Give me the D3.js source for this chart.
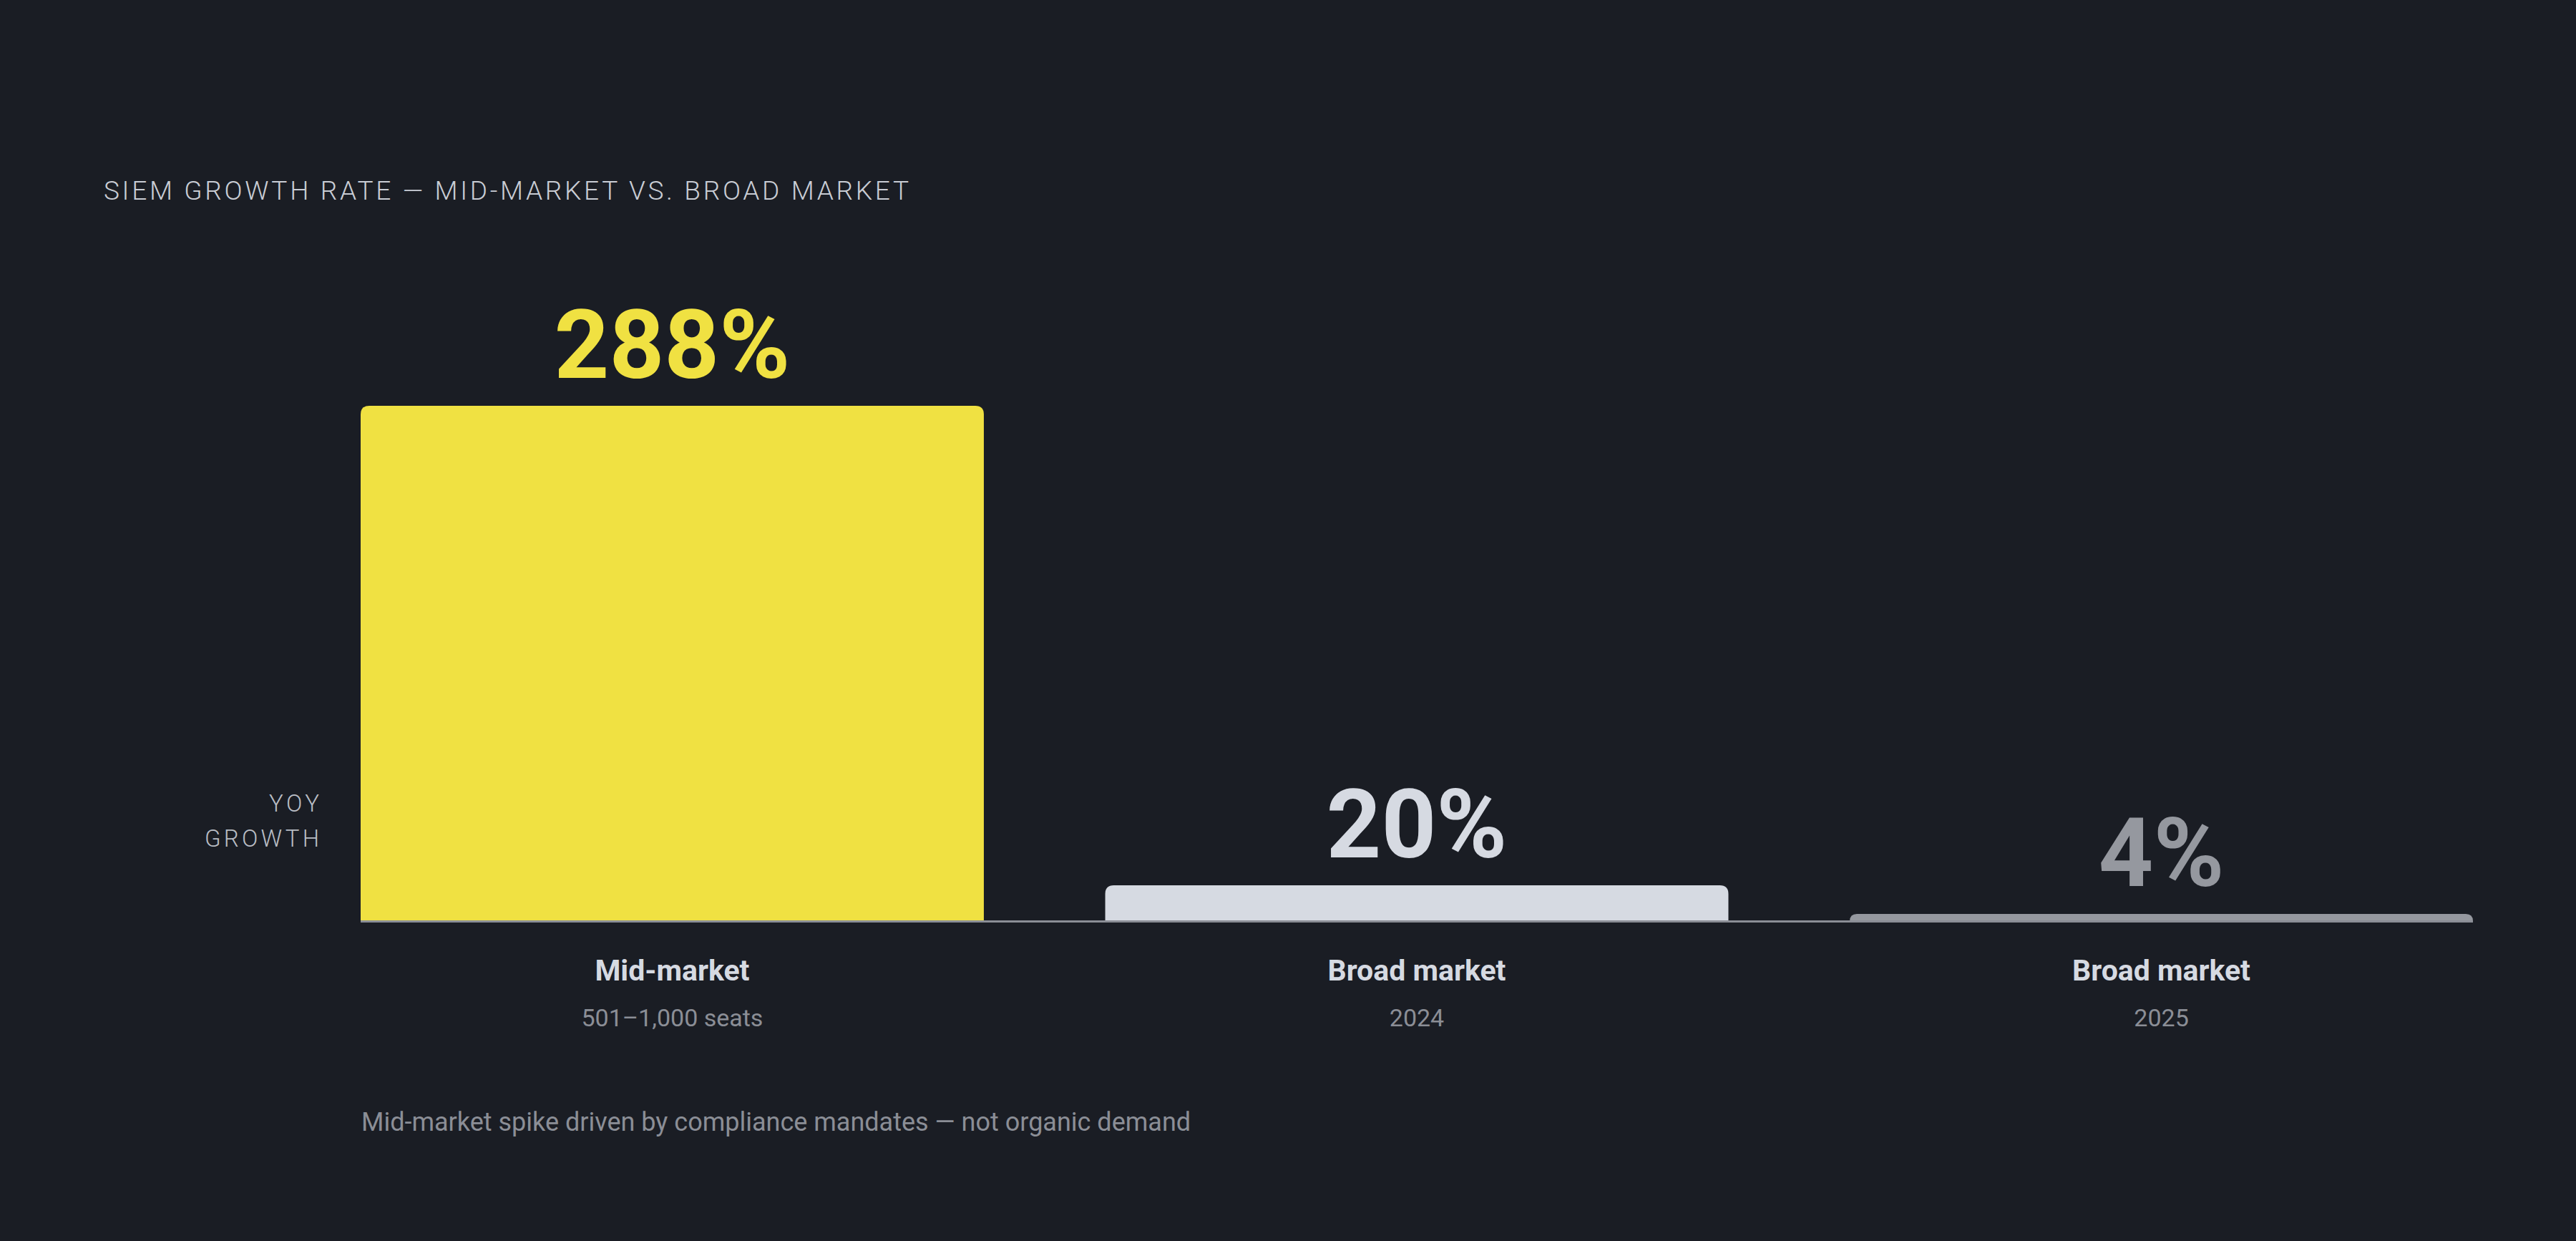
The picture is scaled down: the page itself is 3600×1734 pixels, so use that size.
<!DOCTYPE html>
<html>
<head>
<meta charset="utf-8">
<script src="https://cdn.jsdelivr.net/npm/d3@7"></script>
<style>
  html, body { margin: 0; padding: 0; background: #1a1d24; }
  svg { display: block; font-family: Roboto, "Noto Sans", sans-serif; }
</style>
</head>
<body>
<svg id="chart" width="3600" height="1734"></svg>
<script>
const categories = ['Mid-market', 'Broad market', 'Broad market (2025)'];
const categoryLabels = ['Mid-market', 'Broad market', 'Broad market'];
const categorySubs = ['501–1,000 seats', '2024', '2025'];
const growthValues = [288, 20, 4];
const valueLabels = ['288%', '20%', '4%'];

const barColors = ['#f0e142', '#d6dae2', '#95989f'];
const labelColors = ['#f0e142', '#d6dae2', '#95989f'];

const svg = d3.select('#chart');
svg.append('rect').attr('width', 3600).attr('height', 1734).attr('fill', '#1a1d24');

const plotLeft = 504, plotRight = 3456, baseline = 1287;

const x = d3.scaleBand()
  .domain(categories)
  .range([plotLeft, plotRight])
  .paddingInner(0.163)
  .paddingOuter(0);

const y = d3.scaleLinear()
  .domain([0, 288])
  .range([baseline, baseline - 720]);

// title
svg.append('text')
  .attr('x', 145)
  .attr('y', 279)
  .attr('fill', '#c9cdd5')
  .attr('font-size', 37)
  .attr('font-weight', 300)
  .attr('textLength', 1125)
  .attr('lengthAdjust', 'spacing')
  .text('SIEM GROWTH RATE — MID-MARKET VS. BROAD MARKET');

// y axis caption
const caption = svg.append('g').attr('fill', '#b9bdc5').attr('font-size', 33).attr('font-weight', 300);
caption.append('text')
  .attr('x', 446).attr('y', 1134)
  .attr('text-anchor', 'end')
  .attr('textLength', 70).attr('lengthAdjust', 'spacing')
  .text('YOY');
caption.append('text')
  .attr('x', 446).attr('y', 1183)
  .attr('text-anchor', 'end')
  .attr('textLength', 160).attr('lengthAdjust', 'spacing')
  .text('GROWTH');

// bars with rounded top corners
function topRounded(x0, y0, w, h, r) {
  r = Math.min(r, h, w / 2);
  return `M${x0},${y0 + h}V${y0 + r}Q${x0},${y0} ${x0 + r},${y0}` +
    `H${x0 + w - r}Q${x0 + w},${y0} ${x0 + w},${y0 + r}V${y0 + h}Z`;
}

svg.selectAll('.bar')
  .data(growthValues)
  .enter().append('path')
  .attr('class', 'bar')
  .attr('fill', (d, i) => barColors[i])
  .attr('d', (d, i) => topRounded(x(categories[i]), y(d), x.bandwidth(), baseline - y(d), 12));

// baseline
svg.append('rect')
  .attr('x', plotLeft)
  .attr('y', baseline - 1)
  .attr('width', plotRight - plotLeft)
  .attr('height', 3)
  .attr('fill', '#8b8e96');

// value labels
svg.selectAll('.value')
  .data(growthValues)
  .enter().append('text')
  .attr('class', 'value')
  .attr('x', (d, i) => x(categories[i]) + x.bandwidth() / 2)
  .attr('y', d => y(d) - 39)
  .attr('text-anchor', 'middle')
  .attr('font-size', 134)
  .attr('font-weight', 700)
  .attr('fill', (d, i) => labelColors[i])
  .text((d, i) => valueLabels[i]);

// category labels
svg.selectAll('.cat')
  .data(categories)
  .enter().append('text')
  .attr('class', 'cat')
  .attr('x', d => x(d) + x.bandwidth() / 2)
  .attr('y', 1370)
  .attr('text-anchor', 'middle')
  .attr('font-size', 41)
  .attr('font-weight', 700)
  .attr('fill', '#d6dae2')
  .text((d, i) => categoryLabels[i]);

svg.selectAll('.sub')
  .data(categories)
  .enter().append('text')
  .attr('class', 'sub')
  .attr('x', d => x(d) + x.bandwidth() / 2)
  .attr('y', 1434)
  .attr('text-anchor', 'middle')
  .attr('font-size', 34)
  .attr('fill', '#8b8e96')
  .text((d, i) => categorySubs[i]);

// footnote
svg.append('text')
  .attr('x', 505)
  .attr('y', 1580)
  .attr('font-size', 36)
  .attr('fill', '#8b8e96')
  .text('Mid-market spike driven by compliance mandates — not organic demand');
</script>
</body>
</html>
